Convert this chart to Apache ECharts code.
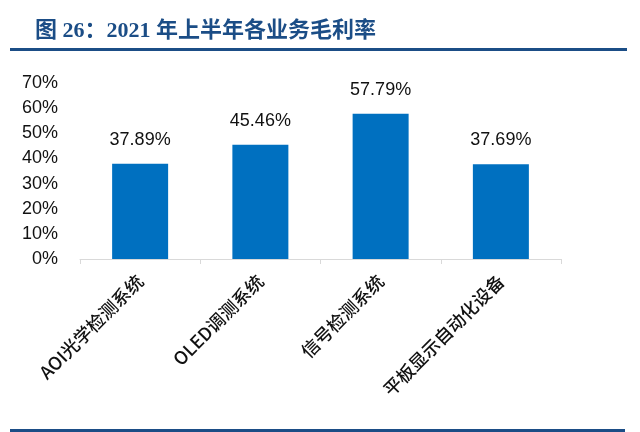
<!DOCTYPE html>
<html lang="zh">
	<head>
		<meta charset="UTF-8">
		<title>2021年上半年各业务毛利率</title>
	</head>

	<style>
		html, body { margin: 0; padding: 0; background: #fff; }
		.margin-chart {
			width: 640px;
			height: 432px;
		}
	</style>

	<body>
		<div id='echarts' class="margin-chart"></div>
	</body>

	<script type="text/javascript" src="https://cdn.jsdelivr.net/npm/echarts@6/dist/echarts.min.js"></script>
	<script>
		var titleText = '图 26：2021 年上半年各业务毛利率'
		var categories = ['AOI光学检测系统', 'OLED调测系统', '信号检测系统', '平板显示自动化设备']
		var marginList = [37.89, 45.46, 57.79, 37.69]
		var yMin = 0
		var yMax = 70
		var yInterval = 10

		var myChart = echarts.init(document.getElementById('echarts'))
		var option = {
			animation: false,
			graphic: [
				{
					type: 'text',
					left: 35,
					top: 20,
					style: {
						text: titleText,
						fill: '#1b4d86',
						font: 'bold 22px "Liberation Serif", "Noto Sans CJK SC", serif'
					}
				},
				// 标题下的蓝线
				{
					type: 'rect',
					shape: { x: 10, y: 48, width: 617, height: 3 },
					style: { fill: '#1b4d86' }
				},
				// 底部蓝线
				{
					type: 'rect',
					shape: { x: 10, y: 429, width: 615, height: 3 },
					style: { fill: '#1b4d86' }
				}
			],
			grid: {
				left: 80,
				right: 79,
				top: 83,
				bottom: 173,
				containLabel: false
			},
			xAxis: {
				type: 'category',
				data: categories,
				axisLine: { lineStyle: { color: '#d9d9d9', width: 1 } },
				axisTick: { show: true, length: 5, lineStyle: { color: '#d9d9d9' } },
				axisLabel: {
					rotate: 45,
					margin: 19,
					color: '#111',
					fontSize: 18,
					fontWeight: 500,
					fontFamily: '"Noto Sans CJK SC", sans-serif'
				}
			},
			yAxis: {
				type: 'value',
				min: yMin,
				max: yMax,
				interval: yInterval,
				axisLine: { show: false },
				axisTick: { show: false },
				splitLine: { show: false },
				axisLabel: {
					margin: 22,
					color: '#111',
					fontSize: 18,
					fontFamily: '"Liberation Sans", sans-serif',
					formatter: '{value}%'
				}
			},
			series: [
				{
					name: '毛利率',
					type: 'bar',
					data: marginList,
					barWidth: 56,
					itemStyle: { color: '#0070c0' },
					label: {
						show: true,
						position: 'top',
						distance: 15,
						color: '#111',
						fontSize: 18,
						fontFamily: '"Liberation Sans", sans-serif',
						formatter: function (p) { return p.value.toFixed(2) + '%' }
					}
				}
			]
		}
		myChart.setOption(option)
	</script>
</html>
